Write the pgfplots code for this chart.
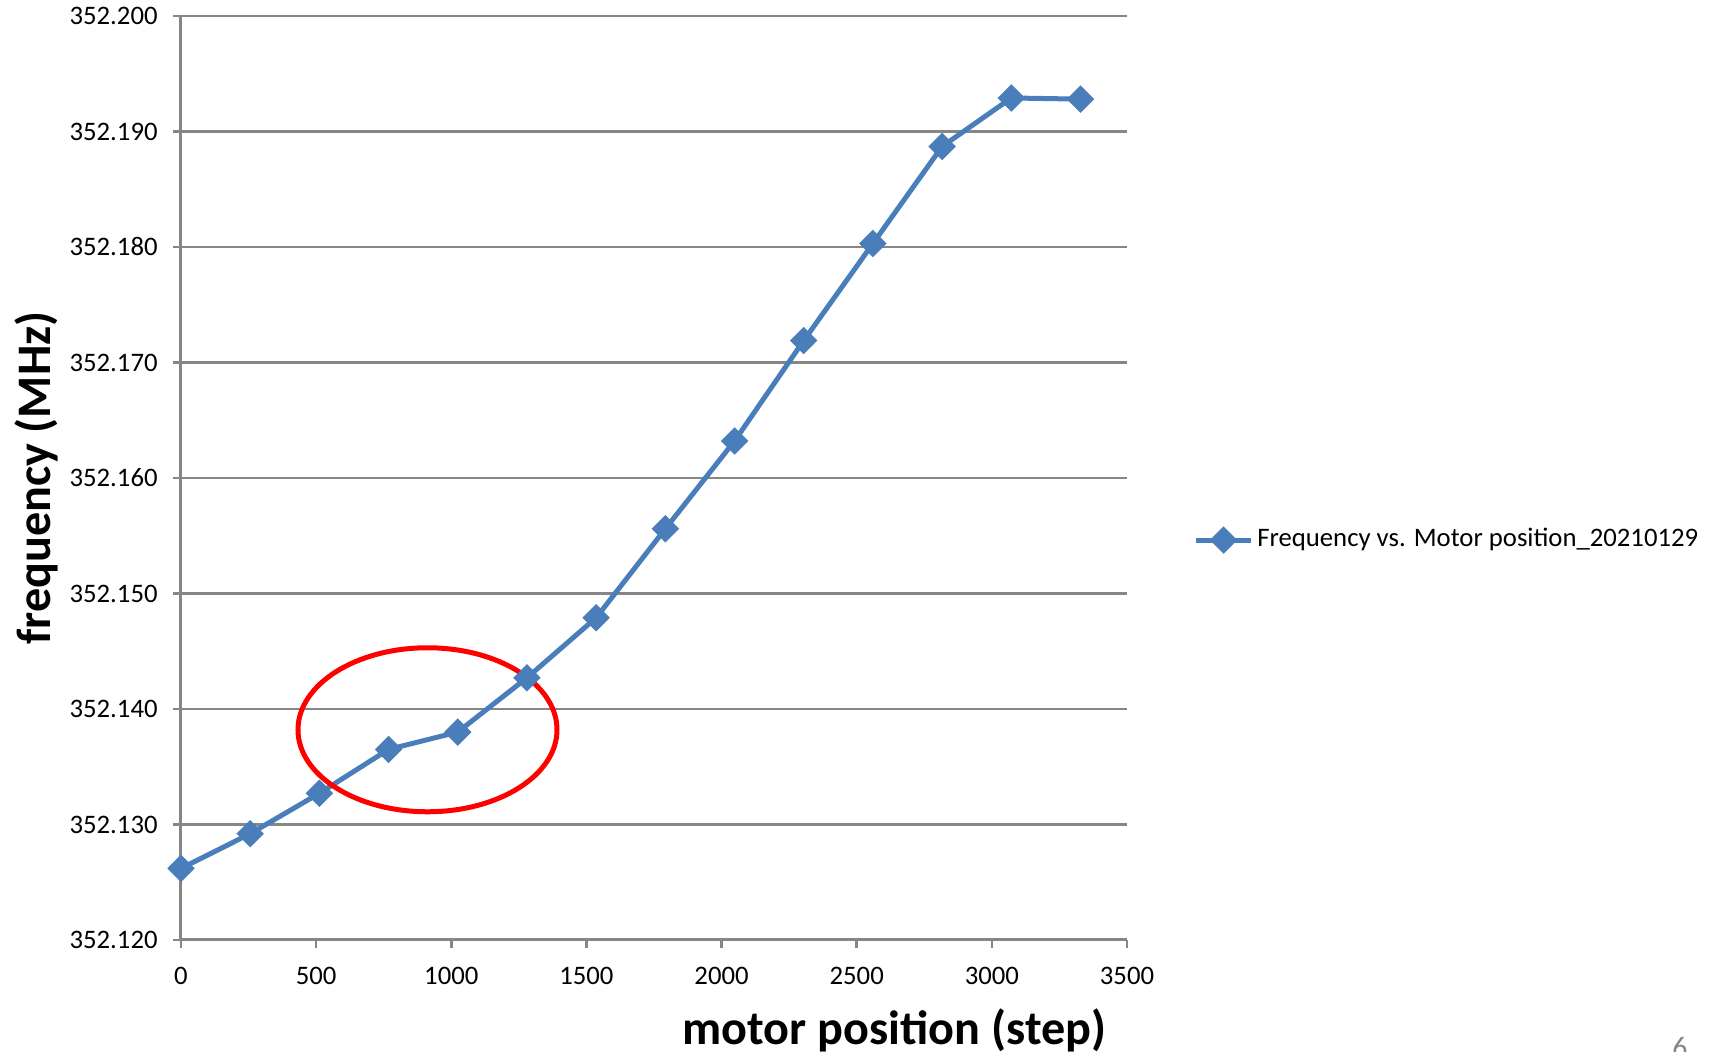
\documentclass[border=0pt]{standalone}
\usepackage{fontspec}
\setmainfont{Carlito}
\usepackage{pgfplots}
\pgfplotsset{compat=1.18}
\definecolor{xlblue}{RGB}{74,126,187}
\definecolor{axgray}{RGB}{134,134,134}
\begin{document}
\begin{tikzpicture}
\begin{axis}[
  scale only axis,
  width=94.6mm, height=92.4mm,
  xmin=0, xmax=3500, ymin=352.12, ymax=352.2,
  xtick={0,500,...,3500},
  ytick={352.12,352.13,352.14,352.15,352.16,352.17,352.18,352.19,352.2},
  axis x line*=bottom, axis y line*=left,
  axis line style={axgray, line width=0.3mm, -},
  ymajorgrids, grid style={axgray, line width=0.25mm},
  tick style={axgray, line width=0.25mm},
  tick align=outside, major tick length=0.8mm,
  scaled y ticks=false,
  /pgf/number format/assume math mode=true,
  ticklabel style={font=\fontsize{7.6}{9}\selectfont},
  x tick label style={yshift=-0.65mm, /pgf/number format/1000 sep={}},
  y tick label style={xshift=-0.3mm, /pgf/number format/.cd, fixed, fixed zerofill, precision=3, 1000 sep={}},
  xlabel={motor position (step)},
  ylabel={frequency (MHz)},
  label style={font=\bfseries\fontsize{13.7}{16}\selectfont},
  xlabel style={at={(axis description cs:0.754,0)}, anchor=center, yshift=-9.0mm},
  ylabel style={at={(axis description cs:-0.1533,0.5)}, anchor=center},
  legend style={at={(1.0696,0.4328)}, anchor=west, draw=none, inner sep=0pt,
    font=\fontsize{7.6}{9}\selectfont, nodes={inner xsep=0.38mm}},
  legend image code/.code={\draw[mark repeat=2,mark phase=2,#1] plot coordinates {(0mm,0mm) (2.75mm,0mm) (5.5mm,0mm)};},
]
\addplot[xlblue, line width=0.5mm, mark=square*, mark size=0.72mm,
  mark options={rotate=45, solid}] coordinates {
  (0,352.1262) (256,352.1292) (512,352.1327) (768,352.1365)
  (1024,352.1380) (1280,352.1427) (1536,352.1479) (1792,352.1556)
  (2048,352.1632) (2304,352.1719) (2560,352.1803) (2816,352.1887)
  (3072,352.1929) (3328,352.1928)
};
\addlegendentry{Frequency vs. Motor position\_20210129}
\draw[red, line width=0.5mm] (axis cs:912,352.1382) ellipse [x radius=12.95mm, y radius=8.2mm];
\end{axis}
\node[text=axgray, anchor=north, inner sep=0pt, font=\fontsize{8.5}{10}\selectfont] at (149.9mm,-9.7mm) {6};
\pgfresetboundingbox
\path[use as bounding box] (-18.1mm,-11.2mm) rectangle (152.9mm,94.0mm);
\end{tikzpicture}
\end{document}
